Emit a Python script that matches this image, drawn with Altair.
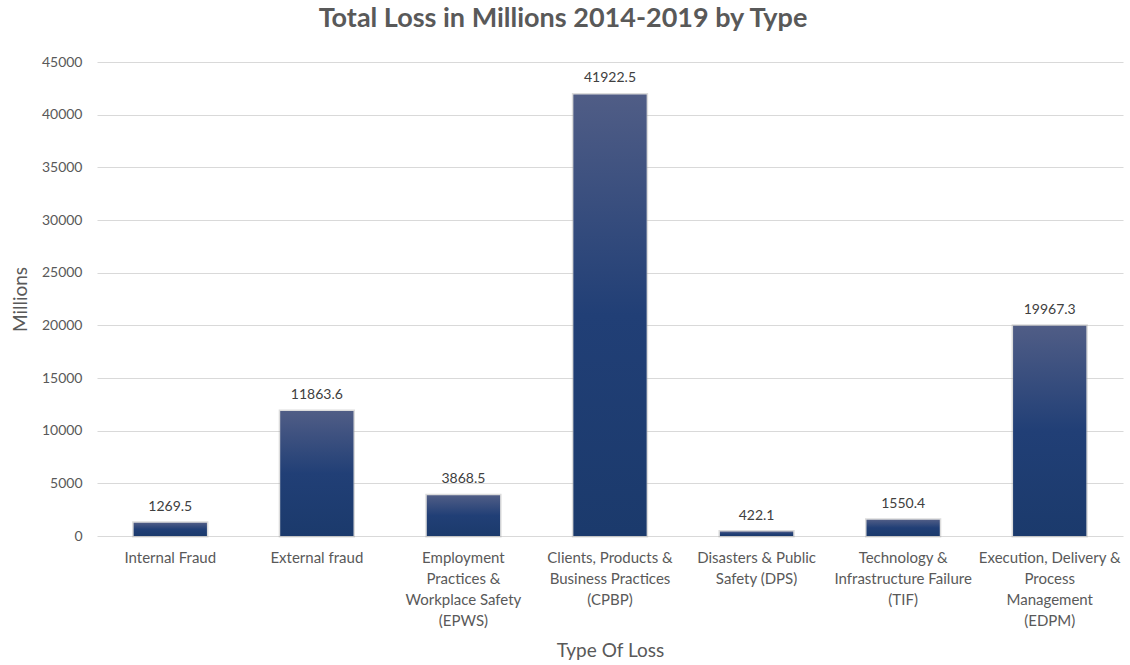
import altair as alt
import pandas as pd

categories = [
    "Internal Fraud",
    "External fraud",
    "Employment\nPractices &\nWorkplace Safety\n(EPWS)",
    "Clients, Products &\nBusiness Practices\n(CPBP)",
    "Disasters & Public\nSafety (DPS)",
    "Technology &\nInfrastructure Failure\n(TIF)",
    "Execution, Delivery &\nProcess\nManagement\n(EDPM)",
]
losses = [1269.5, 11863.6, 3868.5, 41922.5, 422.1, 1550.4, 19967.3]
y_ticks = [0, 5000, 10000, 15000, 20000, 25000, 30000, 35000, 40000, 45000]

df = pd.DataFrame({"type": categories, "loss": losses})

FONT = "Lato"
GRAY = "#595959"

x_enc = alt.X(
    "type:N",
    sort=categories,
    scale=alt.Scale(paddingInner=0.5, paddingOuter=0.25),
    axis=alt.Axis(
        title="Type Of Loss",
        labelExpr="split(datum.label, '\\n')",
        labelAngle=0,
        labelFont=FONT,
        labelFontSize=15,
        labelColor=GRAY,
        labelLineHeight=21,
        labelPadding=14,
        labelBaseline="top",
        ticks=False,
        domain=False,
        grid=False,
        titleFont=FONT,
        titleFontSize=19,
        titleFontWeight="normal",
        titleColor=GRAY,
        titleY=114,
        titleBaseline="middle",
    ),
)

y_enc = alt.Y(
    "loss:Q",
    scale=alt.Scale(domain=[0, 45000], nice=False),
    axis=alt.Axis(
        title="Millions",
        values=y_ticks,
        format="d",
        labelFont=FONT,
        labelFontSize=14,
        labelColor=GRAY,
        labelPadding=15,
        ticks=False,
        domain=False,
        gridColor="#d9d9d9",
        gridWidth=1,
        titleFont=FONT,
        titleFontSize=19,
        titleFontWeight="normal",
        titleColor=GRAY,
        titleX=-77,
        titleY=237,
        titleAlign="center",
        titleBaseline="middle",
    ),
)

base = alt.Chart(df).encode(x=x_enc, y=y_enc)

shadow = base.mark_bar(
    color="#ffffff",
    stroke="#9a9a9a",
    strokeWidth=3,
    strokeOpacity=0.35,
)

bars = base.mark_bar(
    color=alt.Gradient(
        gradient="linear",
        stops=[
            alt.GradientStop(offset=0, color="#505d86"),
            alt.GradientStop(offset=0.5, color="#213f76"),
            alt.GradientStop(offset=1, color="#1b3a6c"),
        ],
        x1=0, x2=0, y1=0, y2=1,
    )
)

labels = base.mark_text(
    baseline="bottom",
    dy=-9,
    font=FONT,
    fontSize=14,
    color="#404040",
).encode(text=alt.Text("loss:Q", format=".1f"))

chart = (
    alt.layer(shadow, bars, labels)
    .properties(
        width=1026,
        height=474,
        view=alt.ViewBackground(stroke="transparent", strokeOpacity=0),
        title=alt.TitleParams(
            "Total Loss in Millions 2014-2019 by Type",
            font=FONT,
            fontSize=27,
            fontWeight="bold",
            color=GRAY,
            anchor="middle",
            dx=-47,
            offset=22,
        ),
        autosize=alt.AutoSizeParams(type="none"),
        padding={"left": 97, "top": 62, "right": 7, "bottom": 129},
    )
    .configure_view(stroke="transparent", strokeWidth=0, strokeOpacity=0)
    .configure(background="white")
)

chart.save("out.html", embed_options={"renderer": "svg", "actions": False})
